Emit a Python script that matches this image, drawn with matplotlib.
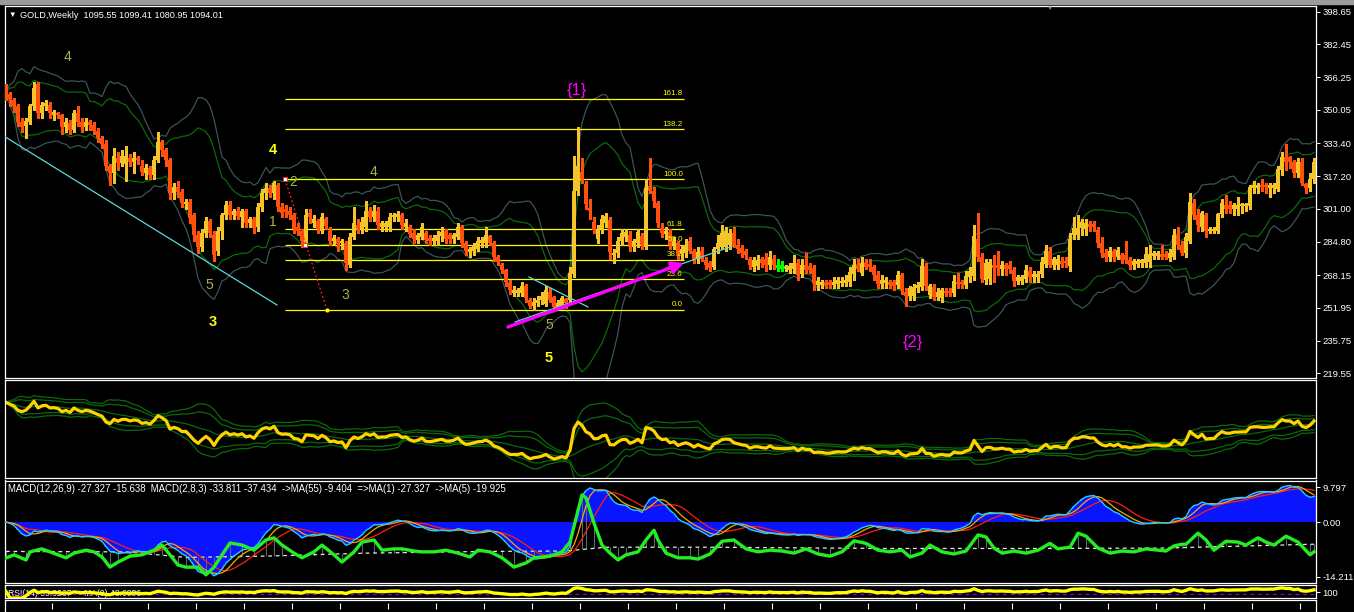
import numpy as np
import pandas as pd
import matplotlib
matplotlib.use("Agg")
import matplotlib.pyplot as plt
from matplotlib.patches import Rectangle

plt.rcParams['font.family'] = ['Liberation Sans', 'DejaVu Sans']

# ---------------- data (weekly candles) ----------------
opens = [
    362, 358, 355, 352, 344, 342, 344, 352, 363, 348.5,
    352, 352.5, 347.5, 348, 347.5, 341.5, 343.5, 340, 348.5, 344,
    341.5, 344, 342.5, 339.5, 336, 333, 322, 319, 326, 323.5,
    323, 326, 324, 326, 322, 319, 321, 318, 325, 334,
    330, 325, 309, 312, 309.5, 303.5, 304.5, 298, 288, 282,
    289, 295, 288, 280,
    290, 298, 303, 298, 300, 297, 300, 294, 296, 292,
    302, 309, 311.5, 309, 313, 302, 301, 300, 298, 292,
    290, 284, 299, 294, 295, 290, 296, 290, 285, 286,
    284, 284, 273, 287, 293, 291, 292, 300, 297, 300,
    292, 292, 292, 297, 297, 298, 292, 292, 289, 285.5,
    287, 289, 286.5, 285, 285,
    287.5, 290, 288, 286, 287, 292, 284, 279.5, 280, 281,
    284, 284, 287.5, 284, 277, 273, 270.5, 264.5, 259.5, 259.5,
    259.5, 263, 256, 253, 254.5, 256, 254, 260, 257.5, 252.5,
    253, 256.5, 256, 268.5, 310, 319.5, 313.5, 301.5, 294.5, 286,
    291, 294, 295.5, 278, 279, 285, 287, 288, 282, 284,
    287.5, 282, 312.5, 310, 304,
    291.5, 288.5, 289.5, 283, 284, 278.5, 279, 285, 280, 276,
    280, 275.5, 274, 272, 281, 282, 282, 283, 289, 283,
    281.5, 280, 276, 272, 272.5, 276, 276, 273, 276, 272.5,
    272, 271, 270.5, 271, 274, 268.5, 273, 272.5, 271.5, 263.5,
    263.5, 265, 265, 263.5, 264, 264.5, 264.5, 265, 268.5, 273,
    269, 274, 273.5, 272, 268,
    264, 264.5, 265, 265, 263.5, 268, 260, 258, 258, 262,
    262.5, 272.5, 258.5, 262.5, 257.5, 257, 260.5, 260.5, 259.5, 265,
    265, 263.5, 267, 267.5, 286, 277, 266, 266.5, 273, 273,
    271, 273, 273, 270.5, 265.5, 265.5, 266.5, 270, 267, 267,
    268.5, 273.5, 280, 273, 273, 275, 275, 272.5, 288, 288,
    291.5, 291, 293.5, 293.5, 290.5,
    284, 279, 277, 280, 277, 278, 278, 275.5, 273, 273.5,
    274, 274, 274.5, 277.5, 277.5, 278.5, 278.5, 276.5, 277, 288,
    283, 279, 285, 304, 298, 292, 298, 290, 290, 290,
    298.5, 303, 303, 301, 301, 302.5, 302.5, 302.5, 311.5, 311.5,
    313, 313, 311.5, 311.5, 311, 320, 326.5, 326.5, 324, 319,
    324, 313.5, 311.5, 316,
]
closes = [
    359, 355.5, 352, 344, 341.5, 344.5, 352, 361, 348.5, 352.5,
    353.5, 348.5, 349, 347.5, 341.5, 344, 340, 348.5, 344, 341.5,
    344, 342.5, 339.5, 336, 333, 322, 319, 327, 323.5, 327,
    327, 324, 326, 325, 319.5, 321, 318, 325, 334, 330,
    325, 309, 312, 309.5, 304, 304.5, 296.5, 288, 282, 289,
    295, 289, 278, 290,
    298, 303, 298, 300, 297.5, 300, 294, 296, 291.5, 302,
    309, 311.5, 309, 314, 302, 299, 299.5, 298, 291, 290,
    285, 298, 297, 296, 291, 297, 292.5, 285, 286.5, 283.5,
    284.5, 274, 287, 294, 291, 294.5, 300, 297, 300, 293,
    294, 294, 297, 298, 298.5, 293, 294, 288.5, 286, 288,
    292, 285.5, 285, 286.5, 288,
    289.5, 286, 286, 288, 292, 284, 280, 281, 283, 285,
    285.5, 288, 284, 277, 274.5, 270.5, 265, 261, 261, 261,
    263, 257, 253, 255, 256, 258, 261, 256, 252.5, 254.5,
    257, 254.5, 269, 310, 322, 316, 303.5, 300, 290.5, 291,
    296, 297.5, 279.5, 279, 285, 289, 289.5, 282, 285, 289.5,
    283, 311.5, 310, 305, 294,
    289, 290, 283, 285, 278, 281, 283, 280, 275, 279.5,
    276, 273, 271.5, 281, 284, 289, 290, 289, 283, 281,
    279, 278, 273, 275.5, 275.5, 274, 273, 277, 273, 272.5,
    272, 272, 272.5, 274, 268, 273, 270.5, 270.5, 264.5, 265.5,
    265, 263.5, 263.5, 265, 266, 265.5, 266, 269.5, 273, 271,
    274, 272, 272, 268, 264,
    266, 266, 263.5, 263, 268, 261, 258, 262, 262.5, 263.5,
    272.5, 263, 263, 257.5, 260, 261, 259.5, 259.5, 265.5, 264,
    264, 267.5, 270, 287.5, 277, 266.5, 274, 274.5, 271.5, 271.5,
    273, 271, 271, 265.5, 267, 267, 270.5, 267, 268.5, 268.5,
    274.5, 280, 273, 276, 276, 273.5, 274, 286, 291.5, 291.5,
    294.5, 294, 292, 292, 284,
    279, 277, 280, 277, 280.5, 275.5, 275.5, 273, 275, 275,
    275.5, 278.5, 278.5, 279, 279, 277, 277, 279, 288, 283,
    279, 287, 304.5, 298, 293, 299, 290, 291, 291, 298.5,
    304, 301, 301, 303, 303, 303.5, 303.5, 312, 313, 313,
    312, 312, 313, 313, 320.5, 326.5, 324, 324, 319, 324,
    314, 311.5, 316, 324,
]
highs = [
    363, 359, 356, 353, 346, 346, 353, 364, 364, 354,
    355, 354, 350, 349, 348, 346, 345, 350, 352, 346,
    346, 345, 344, 341, 337, 335, 323, 331, 329, 330,
    332, 328, 329, 327, 325, 323, 322, 327, 339, 335,
    331, 326, 314, 315, 311, 306, 306, 299, 290, 291,
    297, 296, 290, 292,
    299, 305, 305, 301, 302, 301, 301, 297, 297, 304,
    311, 314, 313, 315, 314, 304, 303, 302, 299, 294,
    291, 301, 301, 298, 296, 299, 297, 292, 288, 287,
    286, 285, 289, 302, 296, 297, 305, 302, 303, 302,
    295, 295, 299, 299, 300, 299, 296, 293, 291, 289,
    294, 290, 288, 288, 290,
    292, 291, 289, 289, 294, 293, 285, 282, 284, 287,
    287, 292, 288, 285, 278, 274, 271, 266, 263, 262,
    265, 264, 257, 257, 258, 260, 263, 262, 258, 256,
    258, 257, 272, 327, 341.5, 326, 315, 306, 297, 293,
    298, 299, 297, 281, 287, 291, 291, 290, 286, 291,
    289, 316, 326, 312, 305,
    294, 292, 291, 287, 285, 283, 286, 287, 281, 282,
    282, 277, 275, 282, 288, 293, 292, 291, 292, 286,
    283, 281, 277, 277, 278, 277, 279, 280, 278, 276,
    275, 273, 274, 278, 276, 276, 279, 274, 273, 267,
    266, 266, 266, 267, 267, 267, 268, 272, 276, 276,
    277, 276, 276, 273, 270,
    268, 267, 266, 266, 270, 269, 262, 263, 264, 265,
    276, 274, 264, 264, 262, 262, 262, 262, 268, 269,
    266, 270, 272, 293, 299, 279, 276, 276, 278, 280,
    275, 274, 275, 272, 268, 268, 273, 272, 270, 270,
    277, 283, 282, 277, 278, 277, 277, 289, 297, 298,
    296, 296, 295, 295, 292,
    287, 281, 282, 281, 282, 279, 285, 277, 276, 276,
    276, 282, 283, 280, 280, 283, 280, 281, 291, 292,
    285, 289, 309, 306, 301, 300, 299, 292, 292, 299,
    306, 308, 305, 304, 307, 304, 304, 313, 315, 314,
    316, 314, 314, 314, 322, 329, 333, 327, 325, 326,
    326, 314, 319, 326,
]
lows = [
    355, 352, 349, 342, 339, 336, 343, 350, 346, 346,
    350, 346, 345, 346, 338, 339, 338, 339, 342, 339,
    340, 340, 338, 334, 331, 320, 313, 314, 320, 322,
    315, 322, 319, 323, 318, 316, 316, 316, 324, 327,
    322, 306, 306, 307, 302, 301, 294, 285, 279, 280,
    287, 287, 275, 278,
    286, 296, 296, 296, 296, 292, 292, 292, 289, 290,
    300, 306, 307, 306, 300, 297, 297, 296, 289, 288,
    282, 283, 294, 292, 289, 289, 291, 283, 283, 280,
    281, 270.5, 272, 286, 289, 289, 290, 295, 295, 291,
    290, 290, 290, 295, 295, 291, 290, 287, 284, 284,
    286, 284, 283, 283, 283,
    285, 284, 284, 284, 286, 282, 278, 277, 278, 280,
    282, 282, 283, 275, 273, 269, 263, 259, 258, 258,
    258, 255, 252, 251, 253, 254, 253, 255, 251, 251,
    252, 252, 254, 267, 308, 314, 301, 296, 289, 284,
    289, 292, 276, 274, 277, 283, 285, 280, 280, 282,
    281, 281, 309, 302, 292,
    287, 286, 281, 281, 276, 276, 277, 279, 274, 274,
    275, 271, 270, 271, 279, 281, 280, 281, 282, 279,
    277, 276, 271, 270, 271, 272, 270, 271, 271, 270,
    270, 270, 269, 269, 266, 267, 269, 269, 261, 261,
    262, 262, 262, 262, 262, 263, 263, 263, 266, 270,
    268, 271, 270, 266, 262,
    262, 262, 262, 261, 262, 259, 253, 256, 256, 260,
    261, 261, 257, 256, 256, 255, 258, 258, 258, 262,
    262, 262, 265, 266, 275, 265, 264, 264, 265, 268,
    268, 268, 269, 263, 264, 264, 265, 265, 265, 265,
    267, 272, 272, 271, 271, 272, 272, 270, 286, 286,
    288, 288, 290, 290, 282,
    277, 275, 275, 275, 276, 274, 274, 271, 271, 272,
    272, 272, 272, 276, 276, 276, 276, 275, 276, 281,
    278, 277, 284, 296, 290, 290, 287, 289, 289, 289,
    297, 299, 299, 298, 298, 299, 300, 301, 309, 309,
    310, 309, 307, 309, 310, 318, 320, 321, 317, 317,
    313, 309, 310, 314,
]

main_ticks = [398.65, 382.45, 366.25, 350.05, 333.40, 317.20, 301.00,
              284.80, 268.15, 251.95, 235.75, 219.55]
fib_levels = [0.0, 23.6, 38.2, 50.0, 61.8, 100.0, 138.2, 161.8]
fib_low, fib_high = 250.9, 315.6

# green oscillator in the MACD window (read at selected bars)
green_idx = [0, 2, 5, 6, 9, 11, 13, 15, 17, 20, 22, 24, 26, 28, 31, 34, 37, 39, 41, 43,
             45, 48, 50, 52, 54, 56, 59, 62, 65, 67, 69, 72, 74, 77, 79, 82, 84, 87, 89, 92,
             94, 97, 99, 102, 104, 107, 110, 113, 116, 118, 121, 124, 127, 130, 132, 136, 139, 141, 144, 145,
             147, 149, 151, 153, 155, 158, 160, 162, 163, 165, 168, 171, 173,
             176, 179, 182, 185, 188, 191, 194, 197, 200, 203, 206, 209, 212, 215, 218, 221, 224, 226,
             229, 231, 234, 237, 240, 243, 245, 247, 249, 252, 255, 258, 261, 263, 266, 268, 270, 273,
             276, 279, 282, 285, 288, 290, 292, 294, 295, 298, 300, 302, 305, 308, 310, 313, 315,
             317, 320, 323, 326, 327]
green_val = [-8.45, -7.7, -8.9, -7.0, -6.3, -7.0, -7.7, -8.4, -7.3, -6.6,
             -7.0, -8.2, -10.6, -9.4, -8.0, -7.7, -6.6, -5.4, -7.7, -10.1,
             -10.6, -10.6, -12.4, -10.6, -7.7, -4.9, -5.4, -6.6, -4.2, -3.7,
             -5.4, -7.3, -8.4, -7.0, -5.4, -7.7, -9.4, -7.0, -4.7, -4.2,
             -6.6, -6.3, -6.3, -6.8, -7.0, -7.0, -6.6, -7.3, -8.2, -6.6,
             -7.0, -8.4, -10.6, -9.6, -8.4, -8.0, -7.0, -4.7, 6.4, 5.7,
             -0.2, -5.4, -7.3, -8.9, -7.7, -7.0, -4.2, -1.9, -4.2, -7.3,
             -8.4, -8.4, -8.7,
             -7.5, -4.5, -4.2, -6.3, -7.0, -6.6, -6.8, -7.3, -6.3, -7.5, -8.0, -7.0, -4.4, -5.0, -6.6, -7.0, -6.6, -8.2,
             -7.3, -5.4, -7.0, -7.5, -6.8, -3.0, -3.5, -6.1, -7.3, -6.8, -7.3, -6.6, -5.0, -6.3, -5.9, -2.6, -3.3, -6.1,
             -7.3, -6.8, -7.0, -6.3, -6.6, -6.8, -5.6, -5.2, -5.2, -2.6, -4.2, -6.6, -4.5, -4.7, -5.4, -3.7, -4.7,
             -5.4, -3.3, -4.7, -7.7, -7.0]
dash_idx = [0, 30, 45, 65, 90, 120, 140, 150, 175, 220, 260, 290, 327]
dash_val = [-6.9, -7.0, -8.3, -8.0, -7.3, -6.9, -6.8, -5.9, -5.9, -6.2, -6.2, -6.1, -5.2]

header = "GOLD,Weekly  1095.55 1099.41 1080.95 1094.01"
macd_header = ("MACD(12,26,9) -27.327 -15.638  MACD(2,8,3) -33.811 -37.434  "
               "->MA(55) -9.404  =>MA(1) -27.327  ->MA(5) -19.925")
rsi_header = "RSI(14) 55.0267  ->MA(9) 48.6886"

# ---------------- styling ----------------
BULL = '#F4C42A'
BEAR = '#FF5010'
W, H = 1354, 612
fig = plt.figure(figsize=(W / 100, H / 100), dpi=100)
fig.patch.set_facecolor('black')


def px_axes(x0, y0, x1, y1):
    a = fig.add_axes([x0 / W, 1 - y1 / H, (x1 - x0) / W, (y1 - y0) / H])
    a.set_facecolor('black')
    for sp in a.spines.values():
        sp.set_color('white')
        sp.set_linewidth(0.9)
    a.tick_params(colors='white', labelsize=6.8, length=3, width=0.7, pad=1.5)
    a.set_xticks([])
    a.yaxis.tick_right()
    return a


def ftext(x, y, s, **kw):
    fig.text(x / W, 1 - y / H, s, **kw)


XL = (-0.375, 327.5)
o = np.array(opens, float)
c = np.array(closes, float)
h = np.array(highs, float)
l = np.array(lows, float)
n = len(c)
idx = np.arange(n)
s = pd.Series(c)

# Bollinger bands
per = 14
mid = s.rolling(per, min_periods=1).mean()
sd = s.rolling(per, min_periods=1).std(ddof=0).fillna(0)

# ---------------- main price window ----------------
ax = px_axes(4.5, 5.5, 1316, 377.5)
ax.set_xlim(*XL)
ax.set_ylim(217.47, 401.72)
ax.set_yticks(main_ticks)
ax.set_yticklabels([f"{t:.2f}" for t in main_ticks])

ax.plot(idx, mid + 3 * sd, color='#3A5555', lw=0.9, zorder=1)
ax.plot(idx, mid - 3 * sd, color='#3A5555', lw=0.9, zorder=1)
ax.plot(idx, mid + 2 * sd, color='#0A6A0A', lw=0.9, zorder=1)
ax.plot(idx, mid - 2 * sd, color='#0A6A0A', lw=0.9, zorder=1)

up = c > o
eq = c == o
col = np.where(up, BULL, BEAR)
ax.vlines(idx[~eq], l[~eq], h[~eq], colors=col[~eq], lw=0.75, zorder=3, antialiased=False)
bb = np.minimum(o, c)
bh = np.maximum(np.abs(c - o), 0.9)
ax.bar(idx[~eq], bh[~eq], bottom=bb[~eq], width=0.76, color=col[~eq], lw=0, zorder=4,
       antialiased=False)
ax.vlines(idx[eq], l[eq], h[eq], colors='#00FF00', lw=0.75, zorder=3, antialiased=False)
ax.hlines(c[eq], idx[eq] - 0.45, idx[eq] + 0.45, colors='#00FF00', lw=0.75, zorder=4,
          antialiased=False)

# Fibonacci
fx0, fx1 = 69.75, 169.5
for lv in fib_levels:
    p = fib_low + (fib_high - fib_low) * lv / 100.0
    ax.hlines(p, fx0, fx1, colors='#FFFF00', lw=0.9, zorder=2)
    ax.text(fx1 - 0.3, p + 0.8, f"{lv:.1f}", color='#FFFF00', fontsize=5.8,
            ha='right', va='bottom', zorder=5)

# red dotted retracement line
ax.plot([69.75, 80.25], [fib_high, fib_low], color='#FF2020', lw=0.9, ls=(0, (1.5, 2)), zorder=5)
ax.plot([69.75, 74.75], [fib_high, (fib_high + fib_low) / 2], 's', ms=2.6,
        mfc='white', mec='#FF2020', mew=0.6, zorder=6, ls='none')
ax.plot([80.25], [fib_low], 'o', ms=2, color='#FFFF00', zorder=6)

# trend lines
ax.plot([-1, 67.75], [337.6, 253.38], color='#5ED8D8', lw=0.9, zorder=5)
ax.plot([130.75, 145.5], [267.25, 252.39], color='#5ED8D8', lw=0.9, zorder=5)
ax.plot([127.25, 181.75], [244.96, 282.60], color='#5ED8D8', lw=0.9, zorder=5)
ax.annotate('', xy=(169.5, 274.18), xytext=(125.5, 242.48),
            arrowprops=dict(arrowstyle='-|>,head_length=0.7,head_width=0.35',
                            color='#FF00FF', lw=2.4, shrinkA=0, shrinkB=0), zorder=7)

# ---------------- price line window ----------------
a1 = px_axes(4.5, 379.5, 1316, 477.5)
a1.set_xlim(*XL)
a1.set_ylim(217.7, 402.0)
a1.set_yticks([])
for k in (2, 3):
    a1.plot(idx, mid + k * sd, color='#0A6A0A', lw=0.9)
    a1.plot(idx, mid - k * sd, color='#0A6A0A', lw=0.9)
a1.plot(idx, mid, color='#0A6A0A', lw=0.9)
a1.plot(idx, c, color='#FFD200', lw=2.3)

# ---------------- MACD window ----------------
am = px_axes(4.5, 480.5, 1316, 582.5)
am.set_xlim(*XL)
am.set_ylim(-14.211, 9.797)
ema12 = s.ewm(span=12, adjust=False).mean()
ema26 = s.ewm(span=26, adjust=False).mean()
macd = ema12 - ema26
ma4 = macd.rolling(4, min_periods=1).mean()
ma9 = macd.rolling(9, min_periods=1).mean()
am.bar(idx, macd, width=0.8, color='#0A14FF', lw=0, zorder=1)
gi = np.array(green_idx)
gv = np.array(green_val)
base = np.interp(gi, dash_idx, dash_val)
am.vlines(gi, base, gv, colors='#5A6A6A', lw=0.8, zorder=2)
am.plot(dash_idx, dash_val, color='#E8E8D8', lw=0.9, ls=(0, (3, 3)), zorder=3)
am.plot(idx, ma9, color='#FF2010', lw=0.9, zorder=4)
am.plot(idx, ma4, color='#FFA500', lw=0.9, zorder=4)
am.plot(idx, macd, color='#20D0FF', lw=1.0, zorder=5)
am.plot(gi, gv, color='#22EE22', lw=2.4, zorder=6, solid_joinstyle='round')
am.set_yticks([8.26, 0.0, -12.9])
am.set_yticklabels(["9.797", "0.00", "-14.211"])

# ---------------- RSI window ----------------
ar = px_axes(4.5, 585, 1316, 598)
ar.set_xlim(*XL)
ar.set_ylim(0, 100)
d = s.diff().fillna(0)
gain = d.clip(lower=0).ewm(alpha=1 / 14, adjust=False).mean()
loss = (-d.clip(upper=0)).ewm(alpha=1 / 14, adjust=False).mean()
rsi = 100 - 100 / (1 + gain / loss.replace(0, np.nan))
rsi = rsi.fillna(50)
ar.text(0.003, 0.35, rsi_header, transform=ar.transAxes, color='white', fontsize=6.2,
        va='center', ha='left', zorder=1)
ar.axhline(30, color='#9400D3', lw=0.9, ls=(0, (3, 3)), zorder=2)
ar.plot(idx, rsi, color='#FFFF00', lw=2.4, zorder=3)
ar.set_yticks([45])
ar.set_yticklabels(["100"])

# ---------------- time strip ----------------
at = px_axes(4.5, 599.5, 1316, 614)
at.set_xlim(*XL)
at.set_ylim(0, 1)
at.set_yticks([])
at.spines['bottom'].set_visible(False)
tick_pos = np.arange(11.5, 328, 12)
at.vlines(tick_pos, 0.35, 0.75, colors='white', lw=0.8)

# ---------------- texts ----------------
ftext(8, 15, "\u25BC", color='white', fontsize=5.5, va='center', ha='left')
ftext(20, 15, header, color='white', fontsize=6.6, va='center', ha='left')
ftext(8, 489, macd_header, color='white', fontsize=6.95, va='center', ha='left')
ftext(1050, 8, "\u25BC", color='#8A8A8A', fontsize=4.5, va='center', ha='center')

OLIVE = '#A8B44A'
for (x, y, t) in [(68, 57, '4'), (293, 182, '2'), (373, 172, '4'), (273, 222, '1'),
                  (345, 295, '3'), (209, 285, '5'), (549, 325, '5')]:
    ftext(x, y, t, color=OLIVE, fontsize=10, va='center', ha='center')
for (x, y, t) in [(273, 150, '4'), (213, 322, '3'), (549, 358, '5')]:
    ftext(x, y, t, color='#FFFF00', fontsize=10.5, fontweight='bold', va='center', ha='center')
ftext(577, 91, "{1}", color='#FF00FF', fontsize=12, va='center', ha='center')
ftext(913, 343, "{2}", color='#FF00FF', fontsize=12, va='center', ha='center')

fig.patches.append(Rectangle((0, 1 - 3.5 / H), 1, 3.5 / H, transform=fig.transFigure,
                             color='#9C9C9C', zorder=0))

fig.savefig('out.png', dpi=100, facecolor='black')
